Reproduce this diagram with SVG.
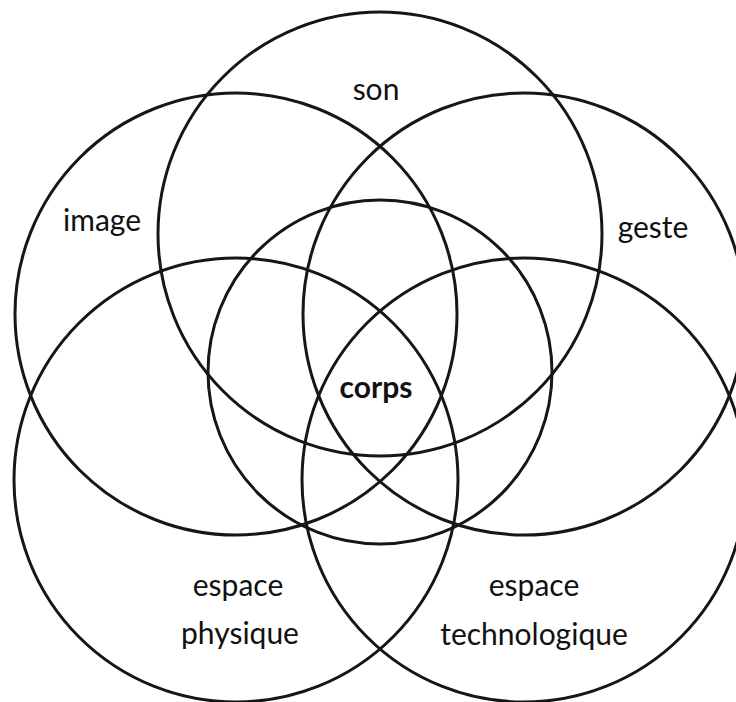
<svg xmlns="http://www.w3.org/2000/svg" width="736" height="702" viewBox="0 0 736 702">
<style>
.c{fill:none;stroke:#161616;stroke-width:3}
.t{font-family:Lato,"Open Sans","Liberation Sans",sans-serif;font-size:30px;fill:#111;text-anchor:middle}
.b{font-weight:bold}
</style>
<rect width="736" height="702" fill="#ffffff"/>
<g id="son"><circle class="c" cx="380" cy="234" r="222"/><text class="t" x="376" y="100">son</text></g>
<g id="image"><circle class="c" cx="236" cy="314" r="221"/><text class="t" x="102" y="231">image</text></g>
<g id="geste"><circle class="c" cx="524" cy="314" r="221"/><text class="t" x="653" y="238">geste</text></g>
<g id="espace-physique"><circle class="c" cx="236" cy="480" r="222"/><text class="t" x="238" y="596">espace</text><text class="t" x="240" y="644">physique</text></g>
<g id="espace-technologique"><circle class="c" cx="524" cy="480" r="222"/><text class="t" x="534" y="596">espace</text><text class="t" x="534" y="645">technologique</text></g>
<g id="corps"><circle class="c" cx="380" cy="372" r="172"/><text class="t b" x="376" y="398">corps</text></g>
<g id="connectors"/>
</svg>
